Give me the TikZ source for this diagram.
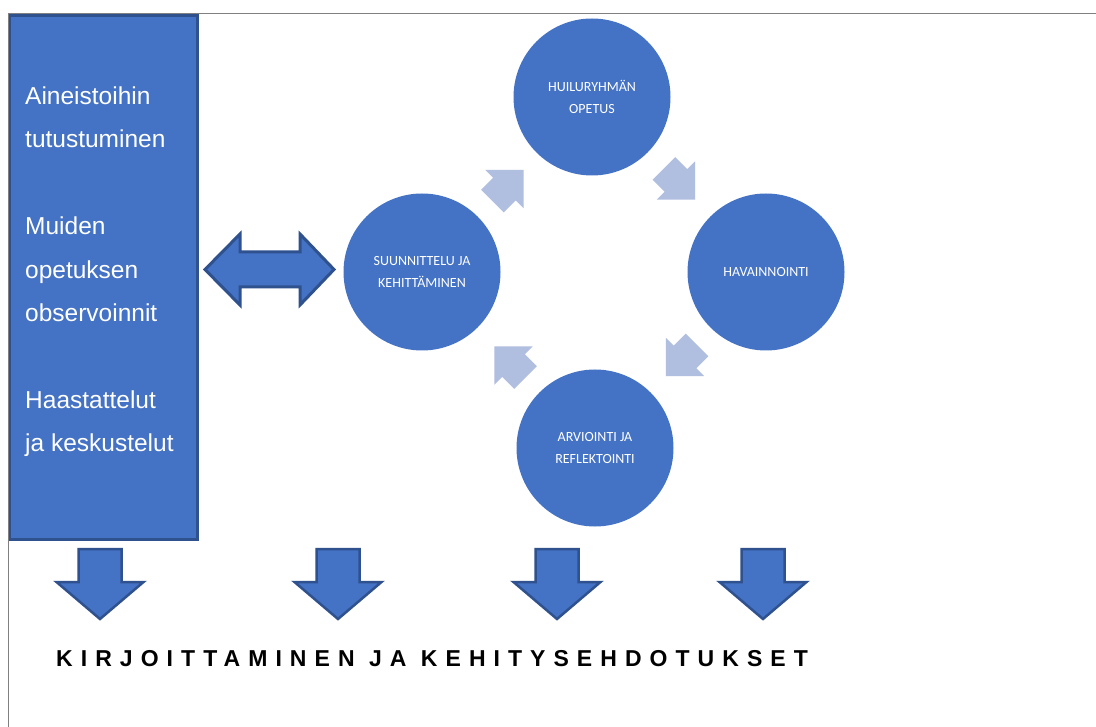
\documentclass[tikz,border=0pt]{standalone}
\usepackage{fontspec}
\setmainfont{Liberation Sans}
\newfontfamily\phasefont{Carlito}
\newfontfamily\spacedfont[LetterSpace=35]{Liberation Sans}
\usetikzlibrary{positioning}
\definecolor{officeblue}{RGB}{68,114,196}
\definecolor{officeedge}{RGB}{47,82,143}
\definecolor{paleblue}{RGB}{176,190,223}
\definecolor{framegray}{RGB}{128,128,128}
\tikzset{
  phase/.style={circle,fill=officeblue,minimum size=157pt,inner sep=0pt,
    text=white,align=center,font=\phasefont\fontsize{14}{21.5}\selectfont},
  sidebox/.style={rectangle,draw=officeedge,fill=officeblue,line width=2.5pt,
    minimum width=187.5pt,minimum height=523.5pt,anchor=north west},
  sidetext/.style={text=white,align=left,inner sep=0pt,anchor=base west,
    font=\fontsize{24.5}{43.5}\selectfont},
  blockarrow/.style={draw=officeedge,fill=officeblue,line width=2.5pt},
  lightarrow/.pic={\fill[paleblue] (-22,16) -- (-5,16) -- (-5,27) -- (22,0)
    -- (-5,-27) -- (-5,-16) -- (-22,-16) -- cycle;},
  downarrow/.pic={\draw[blockarrow] (-21.5,0) -- (21.5,0) -- (21.5,33)
    -- (43.5,33) -- (0,70) -- (-43.5,33) -- (-21.5,33) -- cycle;},
  bothways/.pic={\draw[blockarrow,line width=3pt] (-64.5,0) -- (-29.5,-35.5)
    -- (-29.5,-17.5) -- (30.5,-17.5) -- (30.5,-35.5) -- (64.5,0)
    -- (30.5,35.5) -- (30.5,17.5) -- (-29.5,17.5) -- (-29.5,35.5) -- cycle;}
}

\begin{document}
\begin{tikzpicture}[x=1pt,y=-1pt]
  \useasboundingbox[fill=white] (0,0) rectangle (1096,727);
  \draw[framegray,line width=1.5pt] (1096,13.5) -| (8.3,727);

  % left column
  \node[sidebox] (box) at (8.6,14.5) {};
  \node[sidetext] (sources) at (25,452) {Aineistoihin\\tutustuminen\\[43.5pt]
    Muiden\\opetuksen\\observoinnit\\[43.5pt]Haastattelut\\ja keskustelut};

  % cycle
  \node[phase] (teach) at (592,97)  {HUILURYHMÄN\\OPETUS};
  \node[phase] (watch) at (766,272) {HAVAINNOINTI};
  \node[phase] (assess) at (595,448) {ARVIOINTI JA\\REFLEKTOINTI};
  \node[phase] (plan)  at (422,272) {SUUNNITTELU JA\\KEHITTÄMINEN};

  \pic[rotate=45]   at (508,185.5) {lightarrow};
  \pic[rotate=-45]  at (679.5,184) {lightarrow};
  \pic[rotate=-135] at (681.5,360.5) {lightarrow};
  \pic[rotate=135]  at (510,362) {lightarrow};

  \pic at (269.5,269.5) {bothways};

  % towards writing
  \pic at (100,549) {downarrow};
  \pic at (338,549) {downarrow};
  \pic at (557,549) {downarrow};
  \pic at (763,549) {downarrow};

  \node[anchor=base west,inner sep=0pt,
    font=\spacedfont\bfseries\fontsize{23}{28}\selectfont] (writing)
    at (56,666) {KIRJOITTAMINEN JA KEHITYSEHDOTUKSET};
\end{tikzpicture}
\end{document}
